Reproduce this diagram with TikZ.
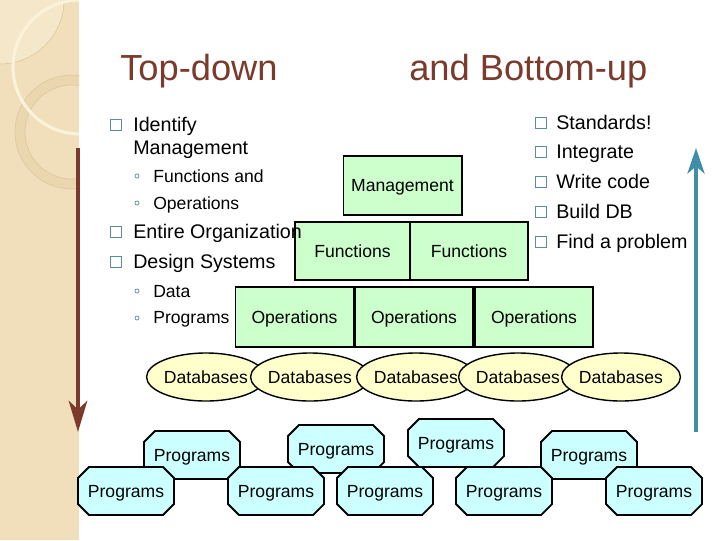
\documentclass[tikz,border=0pt]{standalone}
\usepackage{fontspec}
\setmainfont{Liberation Sans}
\usetikzlibrary{shapes.geometric,shapes.misc,arrows.meta}

\definecolor{stripbg}{HTML}{F1DFBB}
\definecolor{striplight}{HTML}{F5E7CA}
\definecolor{stripline}{HTML}{DCC59A}
\definecolor{stripcream}{HTML}{FBF2DA}
\definecolor{titlebrown}{HTML}{7B3A2C}
\definecolor{bullteal}{HTML}{5F8C99}
\definecolor{arrowblue}{HTML}{3D8EA6}
\definecolor{boxgreen}{HTML}{CCFFCC}
\definecolor{dbyellow}{HTML}{FFFFCC}
\definecolor{progcyan}{HTML}{CCFFFF}

\tikzset{
  heading/.style={anchor=base west, inner sep=0pt, text=titlebrown,
    font=\fontsize{25.8}{30}\selectfont},
  item/.style={anchor=base west, inner sep=0pt, font=\fontsize{14}{17}\selectfont},
  subitem/.style={anchor=base west, inner sep=0pt, font=\fontsize{12.5}{15}\selectfont},
  bsq/.style={draw=bullteal, line width=0.6pt, minimum size=0.28cm, inner sep=0pt},
  bdot/.style={circle, draw=bullteal, line width=0.5pt, minimum size=0.1cm, inner sep=0pt},
  blk/.style={draw, line width=1.4pt, fill=boxgreen, minimum height=1.47cm,
    minimum width=2.95cm, inner sep=0pt, text depth=0pt,
    font=\fontsize{12.5}{15}\selectfont},
  db/.style={ellipse, draw, line width=1pt, fill=dbyellow, minimum width=2.75cm,
    minimum height=1.2cm, inner sep=0pt, text depth=0pt,
    font=\fontsize{12.5}{15}\selectfont},
  prog/.style={chamfered rectangle, chamfered rectangle xsep=0.325cm, draw,
    line width=1.3pt, fill=progcyan, minimum width=2.4cm, minimum height=1.2cm,
    inner sep=0pt, text depth=0pt, font=\fontsize{12.5}{15}\selectfont}
}

\begin{document}
\begin{tikzpicture}[x=0.025cm,y=-0.025cm]
\useasboundingbox (0,0) rectangle (720,540);
\fill[white] (0,0) rectangle (720,540);

% left strip
\begin{scope}
  \clip (0,0) rectangle (79,540);
  \fill[stripbg] (0,0) rectangle (79,540);
  \fill[striplight] (0,0) circle (64);
  \draw[stripline, line width=0.4pt] (0,0) circle (64);
  \draw[stripline!35!stripbg, line width=7pt] (72,132) circle (52);
  \draw[stripline, line width=0.4pt] (72,132) circle (57);
  \draw[stripline, line width=0.4pt] (72,132) circle (47);
  \draw[stripcream, line width=2.2pt] (80,67) circle (67);
\end{scope}

% titles
\node[heading] (tdown) at (120,80) {Top-down};
\node[heading] (bup) at (409,80) {and Bottom-up};

% boxes
\node[blk] (mgmt) at (402.5,185.5) {Management};
\node[blk, minimum width=2.875cm] (fnA) at (352.5,251) {Functions};
\node[blk] (fnB) at (469,251) {Functions};
\node[blk, minimum height=1.5cm] (opA) at (294.5,317) {Operations};
\node[blk, minimum height=1.5cm] (opB) at (414,317) {Operations};
\node[blk, minimum height=1.5cm] (opC) at (534,317) {Operations};

% databases
\node[db] (dbA) at (206,377) {Databases};
\node[db] (dbB) at (310,377) {Databases};
\node[db] (dbC) at (416,377) {Databases};
\node[db] (dbD) at (518,377) {Databases};
\node[db] (dbE) at (621,377) {Databases};

% programs
\node[prog] (prB) at (192,455) {Programs};
\node[prog] (prD) at (336,449) {Programs};
\node[prog] (prF) at (456,443) {Programs};
\node[prog] (prH) at (589,455) {Programs};
\node[prog] (prA) at (126,491) {Programs};
\node[prog] (prC) at (276,491) {Programs};
\node[prog] (prE) at (385,491) {Programs};
\node[prog] (prG) at (504,491) {Programs};
\node[prog] (prI) at (654,491) {Programs};

% top-down list
\node[bsq] (sqA) at (116,125) {};
\node[item] (idf) at (133,131) {Identify};
\node[item] (idm) at (133,154) {Management};
\node[bdot] (dtA) at (137,176) {};
\node[subitem] (fna) at (153,182) {Functions and};
\node[bdot] (dtB) at (137,203) {};
\node[subitem] (ops) at (153,209) {Operations};
\node[bsq] (sqB) at (116,232) {};
\node[item] (ent) at (133,238) {Entire Organization};
\node[bsq] (sqC) at (116,262) {};
\node[item] (dsg) at (133,268) {Design Systems};
\node[bdot] (dtC) at (137,291) {};
\node[subitem] (dat) at (153,297) {Data};
\node[bdot] (dtD) at (137,318) {};
\node[subitem] (prg) at (153,323) {Programs};

% bottom-up list
\node[bsq] (sqD) at (541,123) {};
\node[item] (std) at (556,129) {Standards!};
\node[bsq] (sqE) at (541,152) {};
\node[item] (itg) at (556,158) {Integrate};
\node[bsq] (sqF) at (541,182) {};
\node[item] (wrc) at (556,188) {Write code};
\node[bsq] (sqG) at (541,212) {};
\node[item] (bdb) at (556,218) {Build DB};
\node[bsq] (sqH) at (541,242) {};
\node[item] (fap) at (556,248) {Find a problem};

% arrows
\coordinate (tdtop) at (78,148);
\coordinate (tdbot) at (78,432);
\coordinate (bubot) at (696,432);
\coordinate (butop) at (696,148);
\draw[titlebrown, line width=3.5pt, -{Stealth[length=22pt,width=13pt,inset=6pt]}] (tdtop) -- (tdbot);
\draw[arrowblue, line width=3.5pt, -{Stealth[length=18pt,width=12pt,inset=5pt]}] (bubot) -- (butop);
\end{tikzpicture}
\end{document}
